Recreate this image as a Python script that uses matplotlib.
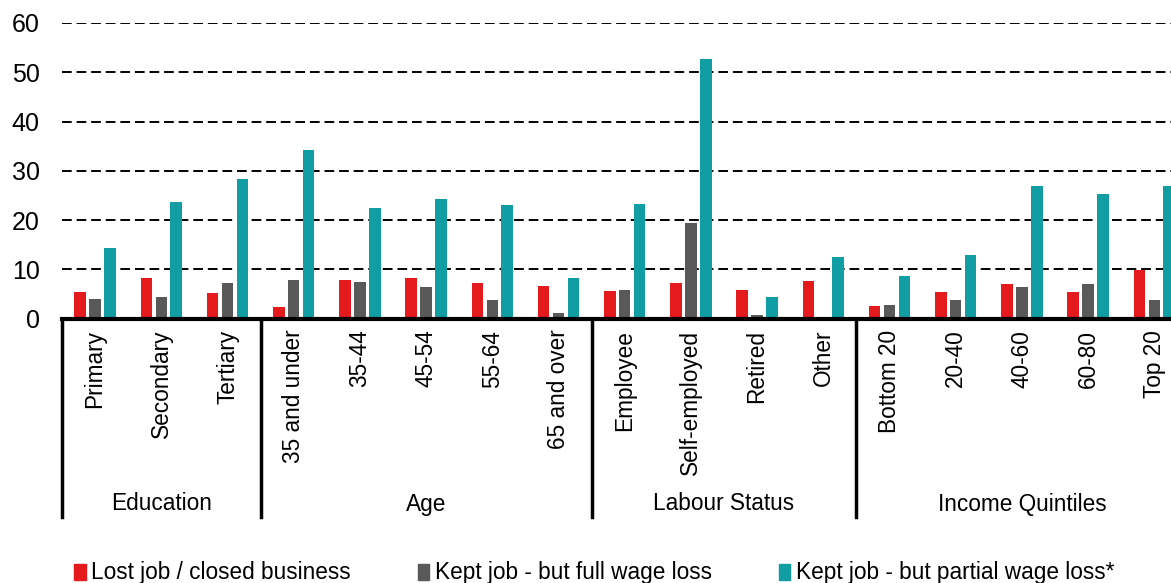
import matplotlib.pyplot as plt
import numpy as np
from matplotlib.patches import Patch

plt.rcParams['font.family'] = ['Liberation Sans', 'DejaVu Sans']

categories = ['Primary', 'Secondary', 'Tertiary',
              '35 and under', '35-44', '45-54', '55-64', '65 and over',
              'Employee', 'Self-employed', 'Retired', 'Other',
              'Bottom 20', '20-40', '40-60', '60-80', 'Top 20']
groups = ['Education', 'Age', 'Labour Status', 'Income Quintiles']
group_sizes = [3, 5, 4, 5]

lost_job = [5.5, 8.2, 5.1, 2.4, 7.8, 8.2, 7.3, 6.7, 5.6, 7.3, 5.8, 7.6, 2.6, 5.4, 7.0, 5.5, 9.9]
full_loss = [4.0, 4.3, 7.2, 7.9, 7.4, 6.5, 3.7, 1.1, 5.8, 19.5, 0.7, 0.0, 2.8, 3.7, 6.4, 7.0, 3.8]
partial_loss = [14.3, 23.6, 28.3, 34.3, 22.4, 24.3, 23.0, 8.2, 23.3, 52.7, 4.3, 12.6, 8.7, 12.9, 26.9, 25.2, 26.9]

series_names = ['Lost job / closed business', 'Kept job - but full wage loss',
                'Kept job - but partial wage loss*']
colors = ['#E41A1C', '#595959', '#109DA4']

W, H = 1171, 583
fig = plt.figure(figsize=(W / 100, H / 100), dpi=100)
ax = fig.add_axes([62 / W, (H - 318.6) / H, 17 * 66.2 / W, 295.6 / H])

x = np.arange(len(categories))
bw = 0.175
for i, (vals, col) in enumerate(zip([lost_job, full_loss, partial_loss], colors)):
    ax.bar(x + (i - 1) * 0.225, vals, width=bw, color=col, zorder=3)

ax.set_xlim(-0.5, len(categories) - 0.5)
ax.set_ylim(0, 60)
ax.set_yticks(range(0, 61, 10))
ax.yaxis.grid(True, linestyle=(0, (5, 2.5)), color='black', linewidth=1.4)
ax.tick_params(axis='y', length=0, pad=16, labelsize=18)
for s in ['left', 'right', 'top']:
    ax.spines[s].set_visible(False)
ax.spines['bottom'].set_linewidth(3)
ax.spines['bottom'].set_zorder(4)

ax.set_xticks(x)
ax.set_xticklabels(categories, rotation=90, fontsize=16.3)
ax.tick_params(axis='x', length=0, pad=8)

# group separators and labels
trans = ax.get_xaxis_transform()
y_bottom = -(517 - 318.6) / 295.6
y_label = -(504 - 318.6) / 295.6
start = 0
bounds = [0]
for g, n in zip(groups, group_sizes):
    ax.text(start + n / 2 - 0.5, y_label, g, transform=trans, ha='center',
            va='center', fontsize=16.3)
    start += n
    bounds.append(start)
for b in bounds:
    ax.plot([b - 0.5, b - 0.5], [0, y_bottom], transform=trans, color='black',
            linewidth=2.5, clip_on=False)

handles = [Patch(color=c, label=n) for c, n in zip(colors, series_names)]
fig.legend(handles=handles, loc='center left', bbox_to_anchor=(54 / W, 10 / H),
           ncol=3, frameon=False, fontsize=16.3, handlelength=0.5,
           handleheight=0.7, handletextpad=0.25, columnspacing=2.95)

fig.savefig('out.png', dpi=100)
